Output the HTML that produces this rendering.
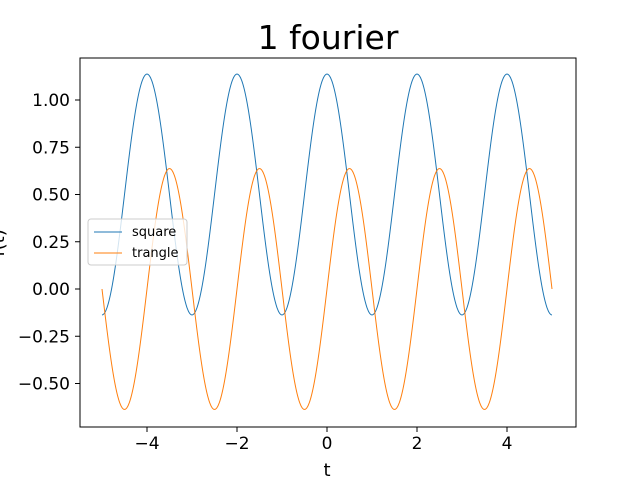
<!DOCTYPE html>
<html><head><meta charset="utf-8"><style>
body{margin:0;background:#fff}
svg{display:block;font-family:"DejaVu Sans","Liberation Sans",sans-serif}
</style></head><body>
<svg id="c" width="640" height="480" viewBox="0 0 640 480">
<rect width="640" height="480" fill="#fff"/>
<text x="328" y="49" font-size="33" text-anchor="middle">1 fourier</text>
<g id="plot"></g>
<rect x="80" y="58" width="496" height="369" fill="none" stroke="#000" stroke-width="1"/>
<text x="327" y="476" font-size="18" text-anchor="middle">t</text>
<text transform="translate(4,243) rotate(-90)" font-size="18" text-anchor="middle">f(t)</text>
<g>
<rect x="88" y="219" width="99" height="46" rx="3" fill="#fff" fill-opacity="0.8" stroke="#ccc"/>
<line x1="94" y1="232" x2="122" y2="232" stroke="#1f77b4" stroke-width="1"/>
<text x="132" y="236" font-size="13">square</text>
<line x1="94" y1="253" x2="122" y2="253" stroke="#ff7f0e" stroke-width="1"/>
<text x="132" y="257" font-size="13">trangle</text>
</g>
</svg>
<script>
const xTicks=[-4,-2,0,2,4];
const yTicks=[-0.5,-0.25,0,0.25,0.5,0.75,1.0];
const yTickLabels=["\u22120.50","\u22120.25","0.00","0.25","0.50","0.75","1.00"];
const xTickLabels=["\u22124","\u22122","0","2","4"];
const tRange=[-5,5];
// Fourier coefficients: [offset, cosAmp, sinAmp, freq]
const squareCoef=[0.5,0.637,0,Math.PI];
const trangleCoef=[0,0,0.637,Math.PI];
const X=t=>327+t*45;
const Y=v=>289-v*189;
const NS="http://www.w3.org/2000/svg";
const plot=document.getElementById('plot');
function el(tag,attrs){const e=document.createElementNS(NS,tag);for(const k in attrs)e.setAttribute(k,attrs[k]);return e;}
xTicks.forEach((t,i)=>{
 const l=el('line',{x1:X(t),x2:X(t),y1:427,y2:432,stroke:'#000'});
 
 
 plot.appendChild(l);
 const tx=el('text',{x:X(t),y:449,'font-size':17,'text-anchor':'middle'});
 tx.textContent=xTickLabels[i];
 
 
 plot.appendChild(tx);
});
yTicks.forEach((v,i)=>{
 const l=el('line',{x1:75,x2:80,y1:Y(v),y2:Y(v),stroke:'#000'});
 
 
 plot.appendChild(l);
 const tx=el('text',{x:70,y:Y(v)+6,'font-size':17,'text-anchor':'end'});
 tx.textContent=yTickLabels[i];
 
 
 plot.appendChild(tx);
});
function series(c,color,name){
 let d='';
 for(let i=0;i<=1000;i++){
  const t=tRange[0]+(tRange[1]-tRange[0])*i/1000;
  const v=c[0]+c[1]*Math.cos(c[3]*t)+c[2]*Math.sin(c[3]*t);
  d+=(i?'L':'M')+X(t).toFixed(2)+','+Y(v).toFixed(2);
 }
 const p=el('path',{d:d,fill:'none',stroke:color,'stroke-width':1});
 
 
 plot.appendChild(p);
}
series(squareCoef,'#1f77b4','square-line');
series(trangleCoef,'#ff7f0e','trangle-line');
</script>
</body></html>
